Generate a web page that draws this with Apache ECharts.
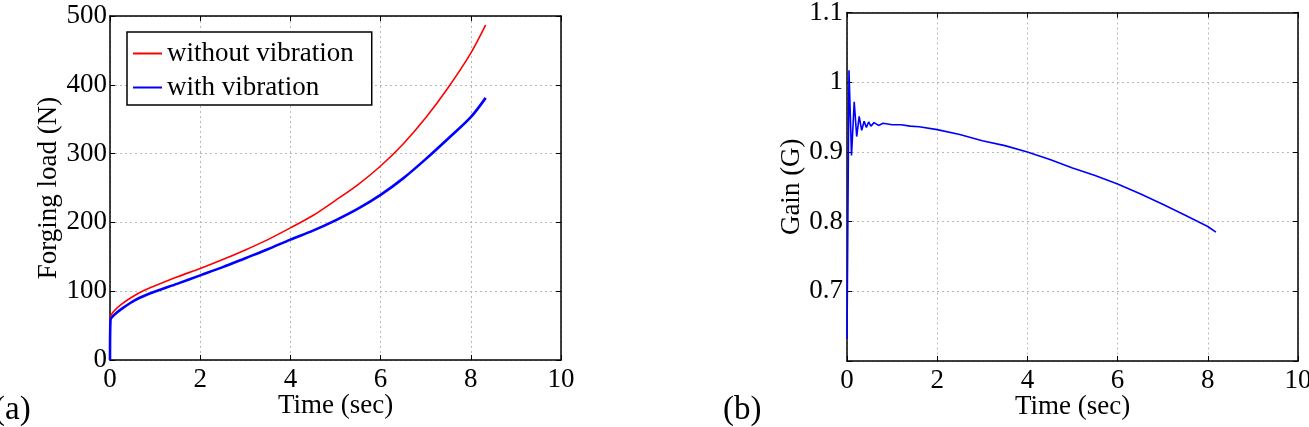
<!DOCTYPE html>
<html>
<head>
<meta charset="utf-8">
<script src="https://cdn.jsdelivr.net/npm/echarts@6/dist/echarts.min.js"></script>
<style>
  html, body { margin: 0; padding: 0; background: #fff; }
  #chart { width: 1309px; height: 427px; }
</style>
</head>
<body>
<div id="chart"></div>
<script>
// (a) forging load
var timeNoVib = [0, 0.01, 0.1, 0.25, 0.5, 0.75, 1, 1.5, 2, 2.5, 3, 3.5, 4, 4.5, 5, 5.5, 6, 6.5, 7, 7.5, 8, 8.33];
var loadNoVib = [0, 62, 72, 81, 92, 101, 108, 121, 133, 146, 160, 175, 192, 210, 232, 255, 282, 314, 352, 396, 446, 487];
var timeVib = [0, 0.01, 0.1, 0.25, 0.5, 0.75, 1, 1.5, 2, 2.5, 3, 3.5, 4, 4.5, 5, 5.5, 6, 6.5, 7, 7.5, 8, 8.33];
var loadVib = [0, 58, 66, 74, 85, 93, 99.5, 111, 123, 135, 148, 161, 175, 188, 203, 220, 240, 264, 292, 322, 353, 381];

// (b) gain
var timeGain = [0, 0.044, 0.10, 0.16, 0.215, 0.27, 0.326, 0.38, 0.43, 0.48, 0.53, 0.6, 0.7, 0.8, 1.0, 1.2, 1.4, 1.6, 2.0, 2.5, 3.0, 3.5, 4.0, 4.5, 5.0, 5.5, 6.0, 6.5, 7.0, 7.5, 8.0, 8.18];
var gainVals = [0.632, 1.017, 0.895, 0.972, 0.922, 0.951, 0.931, 0.944, 0.935, 0.943, 0.937, 0.942, 0.938, 0.941, 0.939, 0.939, 0.937, 0.936, 0.932, 0.925, 0.916, 0.909, 0.900, 0.889, 0.877, 0.866, 0.854, 0.840, 0.825, 0.809, 0.793, 0.785];

var seriesNames = ['without vibration', 'with vibration'];

function pairs(xs, ys) {
  var out = [];
  for (var i = 0; i < xs.length; i++) out.push([xs[i], ys[i]]);
  return out;
}

var font = 'Liberation Serif, Times New Roman, serif';
var fs = 27;

function baseAxis(grid, pos, min, max, step, labels, extra) {
  var ax = {
    type: 'value', gridIndex: grid, position: pos,
    min: min, max: max, interval: step,
    axisLine: { show: true, onZero: false, lineStyle: { color: '#000', width: 1.5 } },
    axisTick: { show: true, inside: true, length: 5, lineStyle: { color: '#000', width: 1 } },
    axisLabel: { show: labels, color: '#000', fontFamily: font, fontSize: fs },
    splitLine: { show: labels, lineStyle: { color: '#b8b8b8', type: [2, 3], width: 1 } }
  };
  for (var k in extra) ax[k] = extra[k];
  return ax;
}

var nameStyle = { color: '#000', fontFamily: font, fontSize: fs };
var xLab = { show: true, color: '#000', fontFamily: font, fontSize: fs, margin: 6 };

var chart = echarts.init(document.getElementById('chart'));
chart.setOption({
  animation: false,
  backgroundColor: '#fff',
  grid: [
    { left: 110, right: 748, top: 16, bottom: 67, outerBoundsMode: 'none', containLabel: false },
    { left: 847, right: 11, top: 12.5, bottom: 66, outerBoundsMode: 'none', containLabel: false }
  ],
  legend: {
    data: seriesNames,
    orient: 'vertical',
    left: 127, top: 32,
    icon: 'rect',
    itemWidth: 29, itemHeight: 2, itemGap: 7,
    padding: [8, 18, 4, 6],
    borderColor: '#000', borderWidth: 1.5,
    backgroundColor: '#fff',
    textStyle: { color: '#000', fontFamily: font, fontSize: fs }
  },
  xAxis: [
    baseAxis(0, 'bottom', 0, 10, 2, true, {
      name: 'Time (sec)', nameLocation: 'middle', nameGap: 32, nameMoveOverlap: false,
      nameTextStyle: nameStyle, axisLabel: xLab
    }),
    baseAxis(0, 'top', 0, 10, 2, false, {}),
    baseAxis(1, 'bottom', 0, 10, 2, true, {
      name: 'Time (sec)', nameLocation: 'middle', nameGap: 32, nameMoveOverlap: false,
      nameTextStyle: nameStyle, axisLabel: xLab
    }),
    baseAxis(1, 'top', 0, 10, 2, false, {})
  ],
  yAxis: [
    baseAxis(0, 'left', 0, 500, 100, true, {
      name: 'Forging load (N)', nameLocation: 'middle', nameGap: 44, nameTextStyle: nameStyle,
      axisLabel: { show: true, color: '#000', fontFamily: font, fontSize: fs, margin: 3 }
    }),
    baseAxis(0, 'right', 0, 500, 100, false, {}),
    baseAxis(1, 'left', 0.6, 1.1, 0.1, true, {
      name: 'Gain (G)', nameLocation: 'middle', nameGap: 29, nameTextStyle: nameStyle,
      axisLabel: {
        show: true, color: '#000', fontFamily: font, fontSize: fs, margin: 4,
        // no label at the 0.6 floor, and "1" rather than "1.0"
        formatter: function (v) {
          if (Math.abs(v - 0.6) < 1e-6) return '';
          return String(Number(v.toFixed(1)));
        }
      }
    }),
    baseAxis(1, 'right', 0.6, 1.1, 0.1, false, {})
  ],
  series: [
    {
      name: seriesNames[0], type: 'line', xAxisIndex: 0, yAxisIndex: 0,
      symbol: 'none', smooth: 0.3, data: pairs(timeNoVib, loadNoVib),
      lineStyle: { color: '#ff0000', width: 1.6 }, itemStyle: { color: '#ff0000' }
    },
    {
      name: seriesNames[1], type: 'line', xAxisIndex: 0, yAxisIndex: 0,
      symbol: 'none', smooth: 0.3, data: pairs(timeVib, loadVib),
      lineStyle: { color: '#0000ff', width: 2.6 }, itemStyle: { color: '#0000ff' }
    },
    {
      name: 'gain', type: 'line', xAxisIndex: 2, yAxisIndex: 2,
      symbol: 'none', data: pairs(timeGain, gainVals),
      lineStyle: { color: '#0000ff', width: 1.6 }, itemStyle: { color: '#0000ff' }
    }
  ],
  graphic: [
    { type: 'text', left: -6, top: 394, style: { text: '(a)', fill: '#000', font: '33px ' + font } },
    { type: 'text', left: 723, top: 394, style: { text: '(b)', fill: '#000', font: '33px ' + font } }
  ]
});
</script>
</body>
</html>
